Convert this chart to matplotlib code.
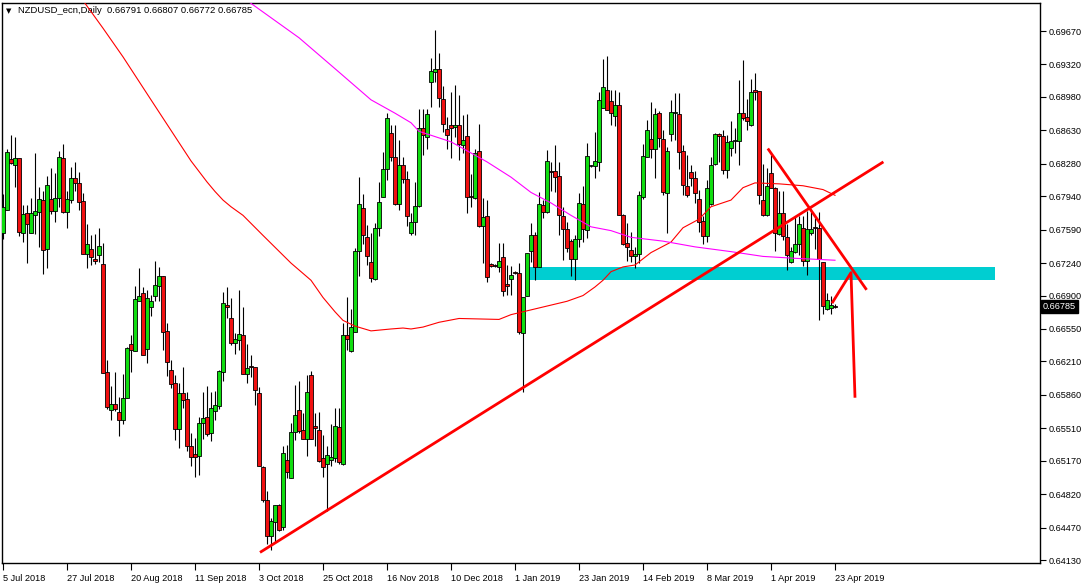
import numpy as np
import pandas as pd
import matplotlib
matplotlib.use("Agg")
import matplotlib.pyplot as plt
from matplotlib.patches import Rectangle
from matplotlib.transforms import blended_transform_factory

plt.rcParams["font.family"] = ["Liberation Sans", "DejaVu Sans"]

# ---------------- data ----------------
SYMBOL = "NZDUSD_ecn,Daily"
LAST_BAR = [0.66791, 0.66807, 0.66772, 0.66785]
START, END = "2018-07-05", "2019-04-23"

OPEN = [.6756,.6780,.6833,.6827,.6834,.6755,.6776,.6755,.6774,.6777,
        .6790,.6739,.6791,.6779,.6792,.6834,.6777,.6790,.6813,.6808,
        .6789,.6734,.6739,.6728,.6732,.6723,.6610,.6570,.6576,.6568,
        .6560,.6583,.6639,.6632,.6684,.6693,.6634,.6678,.6690,.6700,
        .6710,.6653,.6612,.6598,.6550,.6588,.6582,.6532,.6524,.6522,
        .6557,.6563,.6546,.6569,.6574,.6610,.6680,.6666,.6640,.6643,
        .6649,.6608,.6616,.6615,.6588,.6510,.6476,.6438,.6453,.6471,
        .6448,.6518,.6499,.6547,.6570,.6549,.6540,.6607,.6553,.6549,
        .6520,.6514,.6518,.6520,.6552,.6514,.6649,.6632,.6652,.6737,
        .6782,.6751,.6725,.6707,.6761,.6793,.6823,.6860,.6835,.6786,
        .6827,.6812,.6756,.6767,.6784,.6866,.6856,.6914,.6924,.6927,
        .6896,.6864,.6869,.6867,.6869,.6848,.6857,.6794,.6792,.6841,
        .6763,.6773,.6723,.6722,.6720,.6730,.6702,.6707,.6715,.6714,
        .6651,.6690,.6737,.6753,.6720,.6785,.6778,.6820,.6820,.6815,
        .6773,.6760,.6747,.6728,.6749,.6786,.6759,.6826,.6826,.6830,
        .6886,.6905,.6894,.6878,.6890,.6774,.6745,.6738,.6731,.6734,
        .6793,.6835,.6854,.6843,.6881,.6854,.6797,.6859,.6881,.6880,
        .6841,.6805,.6819,.6813,.6791,.6768,.6752,.6786,.6828,.6859,
        .6857,.6821,.6845,.6852,.6852,.6881,.6877,.6869,.6905,.6904,
        .6790,.6774,.6818,.6803,.6754,.6776,.6751,.6725,.6736,.6744,
        .6761,.6726,.6755,.6762,.6761,.6725,.6676,.6677,.66791]
HIGH = [.6796,.6844,.6858,.6856,.6834,.6785,.6785,.6792,.6839,.6804,
        .6799,.6815,.6824,.6818,.6841,.6849,.6799,.6825,.6830,.6819,
        .6797,.6765,.6753,.6754,.6761,.6745,.6622,.6595,.6610,.6584,
        .6608,.6636,.6649,.6700,.6719,.6699,.6696,.6691,.6726,.6720,
        .6710,.6661,.6623,.6607,.6598,.6615,.6589,.6546,.6541,.6563,
        .6589,.6595,.6589,.6590,.6612,.6694,.6699,.6687,.6651,.6696,
        .6678,.6639,.6628,.6615,.6594,.6512,.6485,.6457,.6471,.6472,
        .6532,.6533,.6557,.6596,.6600,.6567,.6607,.6611,.6567,.6568,
        .6544,.6532,.6556,.6572,.6572,.6661,.6689,.6676,.6740,.6814,
        .6796,.6764,.6755,.6766,.6809,.6840,.6881,.6869,.6869,.6853,
        .6835,.6820,.6776,.6809,.6885,.6885,.6885,.6939,.6968,.6944,
        .6909,.6877,.6903,.6910,.6900,.6879,.6880,.6817,.6844,.6870,
        .6792,.6790,.6724,.6723,.6745,.6745,.6722,.6721,.6716,.6724,
        .6689,.6735,.6766,.6757,.6798,.6790,.6842,.6830,.6848,.6830,
        .6783,.6767,.6749,.6753,.6797,.6805,.6850,.6827,.6861,.6903,
        .6938,.6941,.6905,.6905,.6903,.6775,.6766,.6757,.6741,.6799,
        .6849,.6874,.6893,.6886,.6883,.6863,.6846,.6895,.6902,.6902,
        .6848,.6837,.6827,.6820,.6801,.6773,.6811,.6835,.6860,.6860,
        .6863,.6858,.6873,.6865,.6916,.6937,.6896,.6917,.6923,.6904,
        .6828,.6824,.6837,.6804,.6799,.6799,.6765,.6741,.6773,.6773,
        .6773,.6779,.6778,.6771,.6778,.6725,.6693,.6690,.66807]
LOW = [.6749,.6780,.6828,.6804,.6752,.6746,.6724,.6755,.6754,.6741,
       .6713,.6719,.6775,.6767,.6783,.6776,.6761,.6787,.6799,.6780,
       .6734,.6719,.6722,.6723,.6725,.6609,.6571,.6560,.6569,.6543,
       .6555,.6583,.6610,.6632,.6684,.6628,.6619,.6669,.6684,.6684,
       .6633,.6606,.6593,.6539,.6530,.6572,.6527,.6512,.6500,.6502,
       .6540,.6543,.6538,.6560,.6571,.6600,.6666,.6638,.6629,.6633,
       .6608,.6598,.6605,.6575,.6511,.6474,.6430,.6424,.6432,.6443,
       .6444,.6499,.6499,.6539,.6546,.6540,.6522,.6540,.6532,.6516,
       .6500,.6464,.6511,.6516,.6514,.6513,.6633,.6631,.6652,.6711,
       .6744,.6722,.6704,.6706,.6752,.6793,.6811,.6831,.6785,.6780,
       .6808,.6763,.6753,.6753,.6783,.6837,.6844,.6887,.6914,.6888,
       .6861,.6844,.6834,.6856,.6832,.6839,.6776,.6783,.6791,.6762,
       .6724,.6704,.6720,.6720,.6715,.6690,.6691,.6691,.6713,.6650,
       .6589,.6690,.6725,.6706,.6720,.6771,.6776,.6799,.6798,.6753,
       .6727,.6736,.6711,.6706,.6741,.6746,.6750,.6825,.6813,.6820,
       .6886,.6884,.6869,.6868,.6774,.6743,.6726,.6725,.6719,.6724,
       .6791,.6835,.6834,.6813,.6846,.6795,.6756,.6852,.6853,.6823,
       .6795,.6793,.6805,.6787,.6757,.6744,.6746,.6785,.6827,.6830,
       .6817,.6813,.6836,.6839,.6827,.6874,.6863,.6868,.6895,.6786,
       .6773,.6773,.6803,.6737,.6753,.6748,.6717,.6724,.6735,.6732,
       .6721,.6712,.6753,.6739,.6664,.6671,.6675,.6671,.66772]
CLOSE = [.6783,.6840,.6829,.6834,.6757,.6775,.6765,.6776,.6779,.6791,
         .6738,.6806,.6779,.6792,.6835,.6777,.6791,.6813,.6808,.6788,
         .6734,.6744,.6730,.6726,.6742,.6609,.6573,.6576,.6571,.6560,
         .6583,.6635,.6633,.6686,.6690,.6628,.6687,.6684,.6701,.6710,
         .6652,.6620,.6597,.6550,.6588,.6581,.6532,.6521,.6521,.6557,
         .6562,.6545,.6572,.6575,.6611,.6682,.6678,.6640,.6645,.6650,
         .6608,.6614,.6615,.6591,.6511,.6476,.6438,.6454,.6471,.6444,
         .6525,.6505,.6547,.6565,.6548,.6540,.6589,.6540,.6551,.6517,
         .6510,.6523,.6521,.6553,.6516,.6649,.6644,.6657,.6737,.6786,
         .6753,.6731,.6708,.6761,.6788,.6823,.6876,.6835,.6786,.6827,
         .6812,.6773,.6767,.6784,.6866,.6858,.6880,.6925,.6927,.6897,
         .6870,.6858,.6866,.6869,.6849,.6853,.6793,.6793,.6839,.6763,
         .6772,.6709,.6721,.6721,.6726,.6695,.6700,.6712,.6714,.6652,
         .6689,.6735,.6753,.6720,.6786,.6778,.6831,.6819,.6814,.6774,
         .6760,.6740,.6728,.6749,.6787,.6760,.6836,.6826,.6831,.6895,
         .6908,.6884,.6881,.6890,.6774,.6744,.6741,.6731,.6734,.6795,
         .6836,.6863,.6844,.6880,.6855,.6798,.6841,.6882,.6882,.6840,
         .6806,.6795,.6813,.6797,.6767,.6752,.6803,.6827,.6859,.6857,
         .6821,.6851,.6852,.6853,.6881,.6876,.6873,.6903,.6903,.6795,
         .6774,.6805,.6803,.6755,.6776,.6752,.6732,.6737,.6744,.6765,
         .6726,.6760,.6760,.6761,.6728,.6679,.6685,.6680,.66785]

# moving averages (bar index, price) as drawn on the chart
RED_MA_IDX = [18, 19, 20, 25, 30, 37, 42, 47, 51, 53, 55, 57, 60, 65, 72, 77, 80, 83, 85,
              88, 92, 97, 100, 102, 105, 109, 114, 124, 127, 132, 136, 141, 145,
              148, 150, 152, 155, 158, 162, 167, 170, 174, 177, 182, 185, 188,
              194, 200, 205, 208]
RED_MA_VAL = [.7011, .7005, .6999, .6970, .6940, .6895, .6863, .6831, .6809, .6799, .6790,
              .6783, .6774, .6753, .6724, .6706, .6688, .6673, .6664, .6658, .6653, .6655,
              .6656, .6655, .6657, .6662, .6666, .6665, .6670, .6675, .6679, .6684,
              .6690, .6699, .6706, .6715, .6720, .6722, .6735, .6746, .6761, .6770,
              .6783, .6790, .6803, .6808, .6807, .6805, .6801, .6795]
MAG_MA_IDX = [58, 61, 67, 74, 84, 92, 98, 102, 104, 112, 121, 127, 132, 137, 142,
              147, 152, 157, 165, 173, 182, 190, 198, 208]
MAG_MA_VAL = [.7008, .6999, .6981, .6960, .6924, .6895, .6881, .6871, .6862, .6851,
              .6830, .6814, .6798, .6787, .6774, .6762, .6758, .6751, .6747, .6741,
              .6736, .6731, .6729, .6727]

# hand-drawn objects (bar index, price)
ZONE_X = [131.3, 248.0]
ZONE_Y = [0.6706, 0.6720]
TREND_UP_X, TREND_UP_Y = [64.25, 220.1], [0.6421, 0.6830]
TREND_DN_X, TREND_DN_Y = [191.2, 215.9], [0.6844, 0.6696]
ARROW_X, ARROW_Y = [207.25, 212.0, 213.0], [0.6682, 0.6714, 0.6583]

Y_LABELS = ["0.64130", "0.64470", "0.64820", "0.65170", "0.65510", "0.65860",
            "0.66210", "0.66550", "0.66900", "0.67240", "0.67590", "0.67940",
            "0.68280", "0.68630", "0.68980", "0.69320", "0.69670"]
X_LABEL_DATES = ["2018-07-05", "2018-07-27", "2018-08-20", "2018-09-11", "2018-10-03",
                 "2018-10-25", "2018-11-16", "2018-12-10", "2019-01-01", "2019-01-23",
                 "2019-02-14", "2019-03-08", "2019-04-01", "2019-04-23"]

# ---------------- plot ----------------
W, H = 1086, 584
fig = plt.figure(figsize=(W / 100, H / 100), dpi=100)
ax = fig.add_axes([2 / W, 21 / H, 1038 / W, 560 / H])

o, h, l, c = map(np.array, (OPEN, HIGH, LOW, CLOSE))
x = np.arange(len(o))
bull = c > o
bear = c < o
flat = c == o

ax.vlines(x, l, h, color="black", lw=0.8, zorder=2)
ax.bar(x[bull], (c - o)[bull], bottom=o[bull], width=0.76, color="#10dd10",
       edgecolor="black", linewidth=0.6, zorder=3)
ax.bar(x[bear], (c - o)[bear], bottom=o[bear], width=0.76, color="#f01010",
       edgecolor="black", linewidth=0.6, zorder=3)
ax.hlines(o[flat], x[flat] - 0.4, x[flat] + 0.4, color="black", lw=1.2, zorder=3)

ax.plot(RED_MA_IDX, RED_MA_VAL, color="red", lw=0.8, zorder=4)
ax.plot(MAG_MA_IDX, MAG_MA_VAL, color="magenta", lw=0.8, zorder=4)

ax.add_patch(Rectangle((ZONE_X[0], ZONE_Y[0]), ZONE_X[1] - ZONE_X[0],
                       ZONE_Y[1] - ZONE_Y[0], color="#00ced1", lw=0, zorder=1))
for xs, ys in [(TREND_UP_X, TREND_UP_Y), (TREND_DN_X, TREND_DN_Y), (ARROW_X, ARROW_Y)]:
    ax.plot(xs, ys, color="red", lw=2.0, zorder=5, solid_capstyle="butt")

ax.set_xlim(-0.25, 259.25)
ax.set_ylim(0.64099, 0.69964)

# axes cosmetics
for s in ax.spines.values():
    s.set_color("black")
    s.set_linewidth(1.0)
ax.yaxis.tick_right()
ax.set_yticks([float(v) for v in Y_LABELS])
ax.set_yticklabels(Y_LABELS)
ax.tick_params(axis="y", direction="out", length=4, width=0.8, pad=2, labelsize=6.6)

dates = pd.bdate_range(START, END)
pos = [dates.get_loc(pd.Timestamp(d)) for d in X_LABEL_DATES]
ax.set_xticks(pos)
ax.set_xticklabels([pd.Timestamp(d).strftime("%-d %b %Y") for d in X_LABEL_DATES],
                   ha="left")
ax.tick_params(axis="x", direction="out", length=5, width=0.8, pad=3, labelsize=6.6)

# header and current price tag
ax.text(0.004, 0.986, "\u25bc", transform=ax.transAxes, fontsize=5, va="center",
        family="DejaVu Sans")
ax.text(0.015, 0.986, SYMBOL + "  " + " ".join(f"{v:.5f}" for v in LAST_BAR),
        transform=ax.transAxes, fontsize=6.8, va="center")
tr = blended_transform_factory(ax.transAxes, ax.transData)
ax.text(1.003, LAST_BAR[3], f"{LAST_BAR[3]:.5f}", transform=tr, fontsize=6.6,
        color="white", va="center", ha="left",
        bbox=dict(facecolor="black", edgecolor="black", pad=1.2))

fig.savefig("out.png", dpi=100, facecolor="white")
